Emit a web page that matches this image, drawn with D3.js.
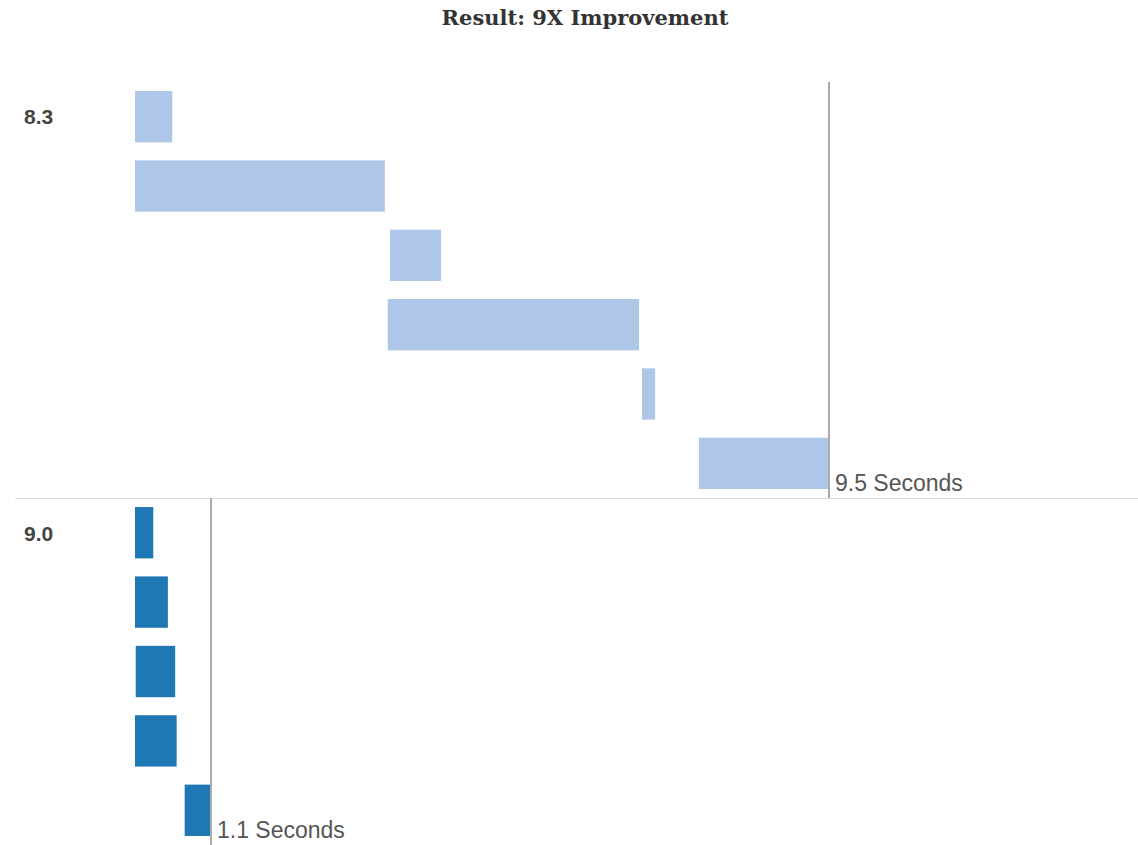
<!DOCTYPE html>
<html>
<head>
  <title>Result: 9X Improvement</title>
  <script src="https://d3js.org/d3.v7.min.js"></script>
  <style>
    body { margin: 0; background: #fff; }
  </style>
</head>
<body>
  <div id="chart"></div>

  <script>
    // Panel labels
    const panels = ['8.3', '9.0'];

    // Step start / end times in seconds, one array per panel
    const startsA = [0, 0, 3.49, 3.46, 6.94, 7.72];
    const endsA   = [0.51, 3.42, 4.19, 6.90, 7.12, 9.5];
    const startsB = [0, 0, 0.01, 0, 0.68];
    const endsB   = [0.25, 0.45, 0.55, 0.57, 1.04];

    // Total line and its label per panel
    const totals = [9.5, 1.04];
    const totalLabels = ['9.5 Seconds', '1.1 Seconds'];

    const colors = ['#aec7e8', '#1f77b4'];

    const width = 1138;
    const height = 845;

    const svg = d3.select('#chart')
      .append('svg')
      .attr('width', width)
      .attr('height', height);

    // Title
    svg.append('text')
      .attr('x', 585)
      .attr('y', 25)
      .attr('text-anchor', 'middle')
      .style('font-family', '"DejaVu Serif", serif')
      .style('font-weight', 'bold')
      .style('font-size', '21px')
      .style('fill', '#333')
      .text('Result: 9X Improvement');

    const xScale = d3.scaleLinear()
      .domain([0, 9.5])
      .range([135, 829]);

    const panelData = [
      { label: panels[0], starts: startsA, ends: endsA, top: 82, bottom: 498 },
      { label: panels[1], starts: startsB, ends: endsB, top: 498, bottom: 845 }
    ];

    // divider between panels
    svg.append('line')
      .attr('x1', 15).attr('x2', width)
      .attr('y1', 498.5).attr('y2', 498.5)
      .attr('stroke', '#ddd')
      .attr('stroke-width', 1);

    panelData.forEach((p, i) => {
      const steps = d3.range(p.starts.length);
      const yScale = d3.scaleBand()
        .domain(steps)
        .range([p.top, p.bottom])
        .paddingInner(0.26)
        .paddingOuter(0.13);

      const g = svg.append('g');

      g.selectAll('.bar')
        .data(steps)
        .enter().append('rect')
        .attr('class', 'bar')
        .attr('x', d => xScale(p.starts[d]))
        .attr('y', d => yScale(d))
        .attr('width', d => xScale(p.ends[d]) - xScale(p.starts[d]))
        .attr('height', yScale.bandwidth())
        .attr('fill', colors[i]);

      // total reference line
      g.append('line')
        .attr('x1', xScale(totals[i])).attr('x2', xScale(totals[i]))
        .attr('y1', p.top).attr('y2', p.bottom)
        .attr('stroke', '#aaa')
        .attr('stroke-width', 2);

      g.append('text')
        .attr('x', xScale(totals[i]) + 6)
        .attr('y', p.bottom - 7)
        .style('font-family', '"Liberation Sans", Arial, sans-serif')
        .style('font-size', '23px')
        .style('fill', '#555')
        .text(totalLabels[i]);

      // panel label
      g.append('text')
        .attr('x', 24)
        .attr('y', p.top + (i === 0 ? 42 : 43))
        .style('font-family', '"Liberation Sans", Arial, sans-serif')
        .style('font-weight', 'bold')
        .style('font-size', '21px')
        .style('fill', '#444')
        .text(p.label);
    });
  </script>
</body>
</html>
